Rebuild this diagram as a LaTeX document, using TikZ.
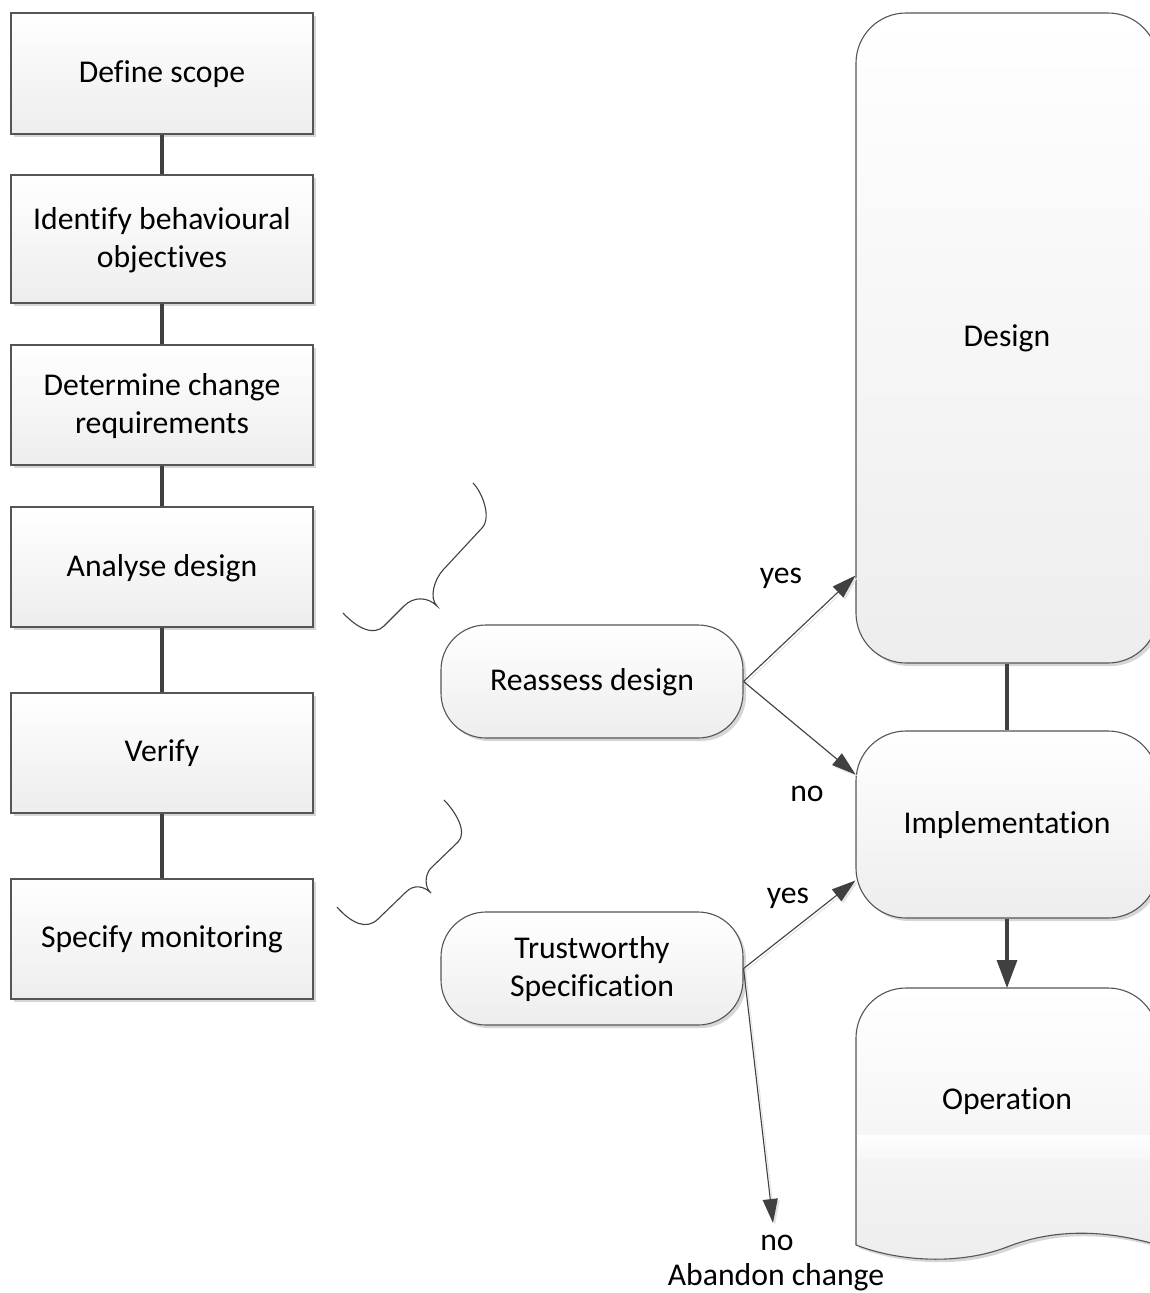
\documentclass[tikz,border=0pt]{standalone}
\usepackage{fontspec}
\setmainfont[Ligatures=NoCommon]{Carlito}
\usetikzlibrary{arrows.meta,shadows}

\definecolor{edge}{HTML}{404040}
\definecolor{frame}{HTML}{555555}

\tikzset{
  txt/.style={font=\fontsize{31.7}{38}\selectfont, align=center, text=black},
  boxtxt/.style={txt, text depth=4pt},
  softshadow/.style={drop shadow={shadow xshift=3pt, shadow yshift=-3pt, fill=black, opacity=0.16}},
  stepbox/.style={boxtxt, draw=frame, line width=1.1pt, minimum width=302pt,
    top color=white, bottom color=black!7, softshadow},
  roundbox/.style={stepbox, rounded corners=45pt},
  phasebox/.style={stepbox, rounded corners=50pt},
  link/.style={draw=edge, line width=3.2pt},
  flow/.style={draw=edge, line width=1.1pt, -{Triangle[length=24pt,width=15pt]}},
  flowshade/.style={draw=black!11, line width=1pt, -{Triangle[length=24pt,width=15pt]},
    transform canvas={xshift=2pt, yshift=-2pt}},
  bigflow/.style={draw=edge, line width=3.2pt, -{Triangle[length=28pt,width=20pt]}},
  bracecurve/.style={draw=edge, line width=1.1pt},
  lbl/.style={txt, anchor=base, inner sep=0pt}
}

\begin{document}
\begin{tikzpicture}[x=1pt, y=-1pt]
\useasboundingbox (0,0) rectangle (1150,1293);
\clip (0,0) rectangle (1150,1293);

% ---- analysis steps (left column)
\node[stepbox, minimum height=121pt] (scope)   at (162,73.5) {Define scope};
\node[stepbox, minimum height=128pt] (ident)   at (162,239)  {Identify behavioural\\objectives};
\node[stepbox, minimum height=120pt] (change)  at (162,405)  {Determine change\\requirements};
\node[stepbox, minimum height=120pt] (analyse) at (162,567)  {Analyse design};
\node[stepbox, minimum height=120pt] (verify)  at (162,753)  {Verify};
\node[stepbox, minimum height=120pt] (monitor) at (162,939)  {Specify monitoring};

\draw[link] (scope) -- (ident);
\draw[link] (ident) -- (change);
\draw[link] (change) -- (analyse);
\draw[link] (analyse) -- (verify);
\draw[link] (verify) -- (monitor);

% ---- braces
\draw[bracecurve] (473,483) .. controls (482,492) and (492,517) .. (482,528)
  -- (443,570) .. controls (434,580) and (429,598) .. (437,606)
  .. controls (428,597) and (414,596) .. (404,606)
  -- (384,626) .. controls (374,636) and (358,629) .. (343,613);
\draw[bracecurve] (444,800) .. controls (455,811) and (468,832) .. (458,842)
  -- (431,868) .. controls (425,874) and (424,887) .. (431,893)
  .. controls (424,886) and (414,884) .. (406,892)
  -- (378,919) .. controls (367,930) and (352,924) .. (337,907);

% ---- decisions
\node[roundbox, minimum height=113pt] (reassess) at (592,681.5) {Reassess design};
\node[roundbox, minimum height=113pt] (trust)    at (592,968.5) {Trustworthy\\Specification};

% ---- life-cycle phases (right column)
\node[phasebox, minimum height=650pt] (design) at (1007,338)   {Design};
\node[phasebox, minimum height=187pt] (impl)   at (1007,824.5) {Implementation};

% operation: document shape with a wavy lower edge
\fill[black, opacity=0.16, xshift=3pt, yshift=-3pt]
  (856,1245) -- (856,1038) arc[start angle=180, end angle=270, radius=50]
  -- (1108,988) arc[start angle=270, end angle=360, radius=50] -- (1158,1245)
  .. controls (1100,1228) and (1050,1230) .. (1007,1247)
  .. controls (960,1265) and (900,1262) .. (856,1245) -- cycle;
\shade[top color=white, bottom color=black!7, draw=frame, line width=1.1pt]
  (856,1245) -- (856,1038) arc[start angle=180, end angle=270, radius=50]
  -- (1108,988) arc[start angle=270, end angle=360, radius=50] -- (1158,1245)
  .. controls (1100,1228) and (1050,1230) .. (1007,1247)
  .. controls (960,1265) and (900,1262) .. (856,1245) -- cycle;
\shade[top color=white, bottom color=black!3] (857,1135) rectangle (1158,1158);
\node[boxtxt] (oper) at (1007,1101) {Operation};
\coordinate (optop) at (1007,988);

\draw[link] (design) -- (impl);
\draw[bigflow] (impl) -- (optop);

% ---- decision outcomes
\coordinate (abandon) at (773,1223);
\draw[flowshade] (reassess.east) -- ([yshift=88pt]design.south west);
\draw[flow]      (reassess.east) -- ([yshift=88pt]design.south west);
\draw[flowshade] (reassess.east) -- ([yshift=50pt]impl.west);
\draw[flow]      (reassess.east) -- ([yshift=50pt]impl.west);
\draw[flowshade] (trust.east) -- ([yshift=-56pt]impl.west);
\draw[flow]      (trust.east) -- ([yshift=-56pt]impl.west);
\draw[flowshade] (trust.east) -- (abandon);
\draw[flow]      (trust.east) -- (abandon);

\node[lbl] (yes1) at (781,583)  {yes};
\node[lbl] (no1)  at (807,801)  {no};
\node[lbl] (yes2) at (788,903)  {yes};
\node[lbl] (no2)  at (777,1250) {no};
\node[lbl] (ab)   at (776,1285) {Abandon change};
\end{tikzpicture}
\end{document}
